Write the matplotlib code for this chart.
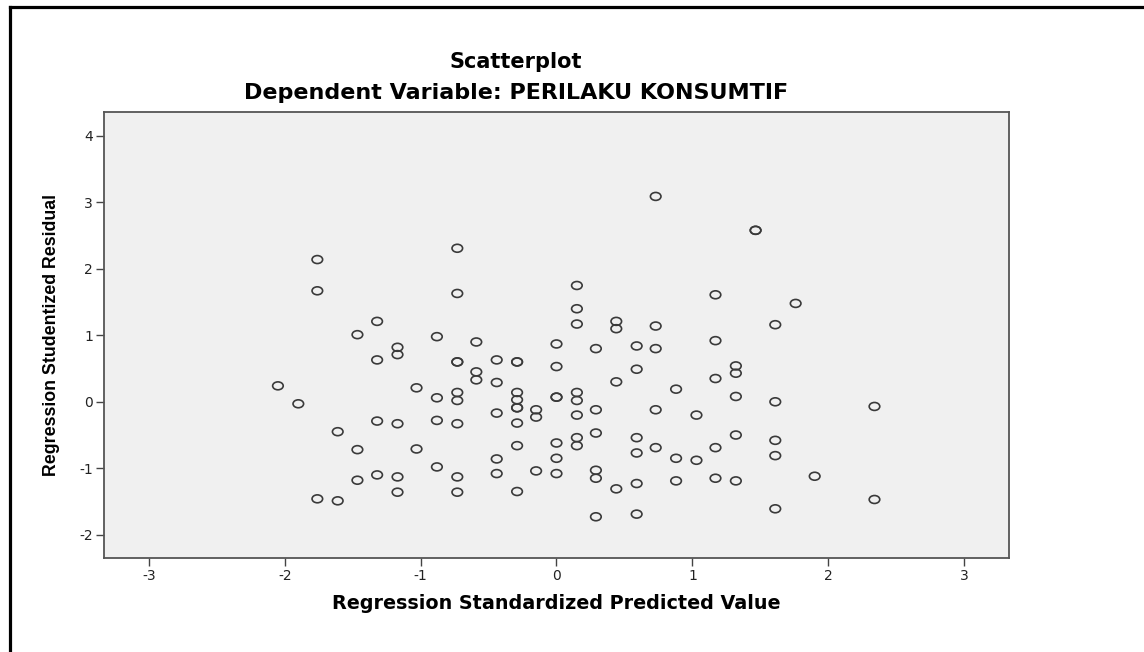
import matplotlib
matplotlib.use("Agg")
import matplotlib.pyplot as plt
from matplotlib.path import Path
from matplotlib.transforms import Affine2D
from matplotlib.lines import Line2D

# regression standardized predicted value (x) and studentized residual (y)
pred = [-2.05, -1.90,
        -1.76, -1.76, -1.76,
        -1.61, -1.61,
        -1.465, -1.465, -1.465,
        -1.32, -1.32, -1.32, -1.32,
        -1.17, -1.17, -1.17, -1.17, -1.17,
        -1.03, -1.03,
        -0.88, -0.88, -0.88, -0.88,
        -0.73, -0.73, -0.73, -0.73, -0.73, -0.73, -0.73, -0.73, -0.73,
        -0.59, -0.59, -0.59,
        -0.44, -0.44, -0.44, -0.44, -0.44,
        -0.29, -0.29, -0.29, -0.29, -0.29, -0.29, -0.29, -0.29, -0.29,
        -0.15, -0.15, -0.15,
        0.0, 0.0, 0.0, 0.0, 0.0, 0.0, 0.0,
        0.15, 0.15, 0.15, 0.15, 0.15, 0.15, 0.15, 0.15,
        0.29, 0.29, 0.29, 0.29, 0.29, 0.29,
        0.44, 0.44, 0.44, 0.44,
        0.59, 0.59, 0.59, 0.59, 0.59, 0.59,
        0.73, 0.73, 0.73, 0.73, 0.73,
        0.88, 0.88, 0.88,
        1.03, 1.03,
        1.17, 1.17, 1.17, 1.17, 1.17,
        1.32, 1.32, 1.32, 1.32, 1.32,
        1.465, 1.465,
        1.61, 1.61, 1.61, 1.61, 1.61,
        1.76, 1.90,
        2.34, 2.34]

resid = [0.24, -0.03,
         2.14, 1.67, -1.46,
         -0.45, -1.49,
         1.01, -0.72, -1.18,
         1.21, 0.63, -0.29, -1.10,
         0.82, 0.71, -0.33, -1.13, -1.36,
         0.21, -0.71,
         0.98, 0.06, -0.28, -0.98,
         2.31, 1.63, 0.60, 0.60, 0.14, 0.02, -0.33, -1.13, -1.36,
         0.90, 0.45, 0.33,
         0.63, 0.29, -0.17, -0.86, -1.08,
         0.60, 0.60, 0.14, 0.03, -0.09, -0.09, -0.32, -0.66, -1.35,
         -0.12, -0.23, -1.04,
         0.87, 0.53, 0.07, 0.07, -0.62, -0.85, -1.08,
         1.75, 1.40, 1.17, 0.14, 0.02, -0.20, -0.54, -0.66,
         0.80, -0.12, -0.47, -1.03, -1.15, -1.73,
         1.21, 1.10, 0.30, -1.31,
         0.84, 0.49, -0.54, -0.77, -1.23, -1.69,
         3.09, 1.14, 0.80, -0.12, -0.69,
         0.19, -0.85, -1.19,
         -0.20, -0.88,
         1.61, 0.92, 0.35, -0.69, -1.15,
         0.54, 0.43, 0.08, -0.50, -1.19,
         2.58, 2.58,
         1.16, 0.00, -0.58, -0.81, -1.61,
         1.48, -1.12,
         -0.07, -1.47]

xticks = [-3, -2, -1, 0, 1, 2, 3]
yticks = [-2, -1, 0, 1, 2, 3, 4]

plt.rcParams['axes.unicode_minus'] = False

fig = plt.figure(figsize=(11.44, 6.52), dpi=100)
fig.patch.set_facecolor('white')
ax = fig.add_axes([0.0909, 0.1442, 0.7911, 0.684])
ax.set_facecolor('#f0f0f0')

# small, slightly flattened circle marker
ell = Path.unit_circle().transformed(Affine2D().scale(1.0, 0.75))
ax.scatter(pred, resid, marker=ell, s=58, facecolors='none',
           edgecolors='#3a3a3a', linewidths=1.2)

ax.set_xlim(-3.33, 3.33)
ax.set_ylim(-2.35, 4.36)
ax.set_xticks(xticks)
ax.set_yticks(yticks)
ax.tick_params(direction='out', length=6, width=1, color='#444444',
               labelsize=10, labelcolor='#222222', pad=2)
for s in ax.spines.values():
    s.set_color('#555555')
    s.set_linewidth(1.3)

ax.set_xlabel('Regression Standardized Predicted Value', fontsize=13.8,
              fontweight='bold', labelpad=8)
ax.set_ylabel('Regression Studentized Residual', family='Liberation Sans',
              fontsize=12.8, fontweight='bold', labelpad=14)

fig.text(0.451, 0.905, 'Scatterplot', ha='center', va='center',
         fontsize=15, fontweight='bold')
fig.text(0.451, 0.858, 'Dependent Variable: PERILAKU KONSUMTIF', ha='center',
         va='center', fontsize=16, fontweight='bold')

# outer frame (top and left edges)
fig.add_artist(Line2D([9.5 / 1144, 1], [1 - 6.5 / 652, 1 - 6.5 / 652],
                      transform=fig.transFigure, color='black', lw=2.3))
fig.add_artist(Line2D([9.5 / 1144, 9.5 / 1144], [0, 1 - 6.5 / 652],
                      transform=fig.transFigure, color='black', lw=2.3))

fig.savefig('out.png', dpi=100)
